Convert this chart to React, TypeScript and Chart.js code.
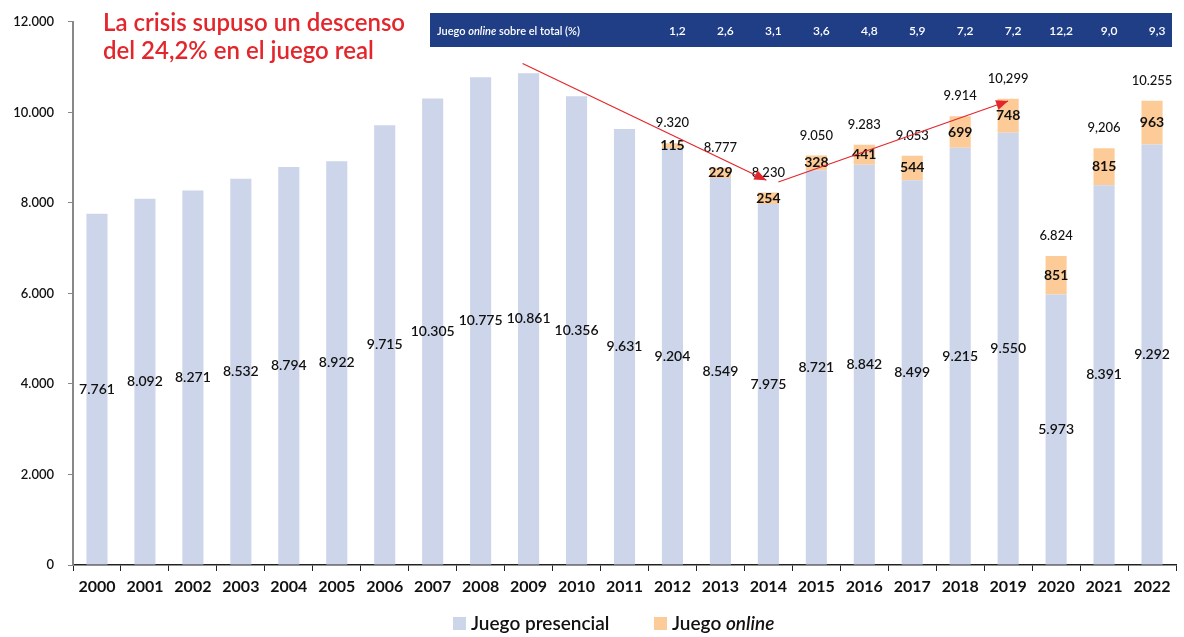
import React, { useEffect, useRef } from "react";
import { Chart, registerables } from "chart.js";
Chart.register(...registerables);

const years = ["2000","2001","2002","2003","2004","2005","2006","2007","2008","2009","2010","2011","2012","2013","2014","2015","2016","2017","2018","2019","2020","2021","2022"];
const presencial = [7761,8092,8271,8532,8794,8922,9715,10305,10775,10861,10356,9631,9204,8549,7975,8721,8842,8499,9215,9550,5973,8391,9292];
const online = [null,null,null,null,null,null,null,null,null,null,null,null,115,229,254,328,441,544,699,748,851,815,963];
const totalLabels = ["","","","","","","","","","","","","9.320","8.777","8.230","9.050","9.283","9.053","9.914","10,299","6.824","9,206","10.255"];
const shareYears = ["2012","2013","2014","2015","2016","2017","2018","2019","2020","2021","2022"];
const shareValues = ["1,2","2,6","3,1","3,6","4,8","5,9","7,2","7,2","12,2","9,0","9,3"];
const yMax = 12000;
const yStep = 2000;
const titleLines = ["La crisis supuso un descenso", "del 24,2% en el juego real"];
// arrow annotation anchors: [year, value]
const arrowDown = [["2009", 11080], ["2014", 8500]];
const arrowUp = [["2014", 8460], ["2019", 10250]];

const C_PRES = "#cdd5ea";
const C_ONL = "#fccb98";
const C_RED = "#e3262b";
const C_BANNER = "#1f3e86";
const FONT = "Lato, 'Open Sans', sans-serif";

const fmt = (n: number) => String(n).replace(/\B(?=(\d{3})+(?!\d))/g, ".");

const drawArrow = (ctx: CanvasRenderingContext2D, x1: number, y1: number, x2: number, y2: number) => {
  ctx.beginPath();
  ctx.moveTo(x1, y1);
  ctx.lineTo(x2, y2);
  ctx.stroke();
  const a = Math.atan2(y2 - y1, x2 - x1);
  const L = 12, W = 5;
  ctx.beginPath();
  ctx.moveTo(x2, y2);
  ctx.lineTo(x2 - L * Math.cos(a) + W * Math.sin(a), y2 - L * Math.sin(a) - W * Math.cos(a));
  ctx.lineTo(x2 - L * Math.cos(a) - W * Math.sin(a), y2 - L * Math.sin(a) + W * Math.cos(a));
  ctx.closePath();
  ctx.fill();
};

const overlayPlugin = {
  id: "overlay",
  afterDatasetsDraw(chart: any) {
    const ctx: CanvasRenderingContext2D = chart.ctx;
    const xs = chart.scales.x, ys = chart.scales.y;
    const m0 = chart.getDatasetMeta(0), m1 = chart.getDatasetMeta(1);
    ctx.save();
    ctx.textAlign = "center";
    ctx.textBaseline = "middle";
    ctx.fillStyle = "#111";
    m0.data.forEach((el: any, i: number) => {
      const p = el.getProps(["x", "y", "base"], true);
      ctx.font = `600 14px ${FONT}`;
      ctx.fillText(fmt(presencial[i]), p.x, (p.y + p.base) / 2);
    });
    m1.data.forEach((el: any, i: number) => {
      const v = online[i];
      if (v == null) return;
      const p = el.getProps(["x", "y", "base"], true);
      ctx.font = `bold 14px ${FONT}`;
      ctx.fillText(String(v), p.x, (p.y + p.base) / 2);
      ctx.font = `500 13px ${FONT}`;
      ctx.fillText(totalLabels[i], p.x, p.y - 20);
    });
    // arrows
    ctx.strokeStyle = C_RED;
    ctx.fillStyle = C_RED;
    ctx.lineWidth = 1.2;
    const pt = (a: any) => [xs.getPixelForValue(years.indexOf(a[0])), ys.getPixelForValue(a[1])];
    const [d1, d2] = arrowDown.map(pt);
    drawArrow(ctx, d1[0] - 6, d1[1], d2[0] - 2, d2[1]);
    const [u1, u2] = arrowUp.map(pt);
    drawArrow(ctx, u1[0] + 10, u1[1], u2[0], u2[1]);
    ctx.restore();
  },
  afterDraw(chart: any) {
    const ctx: CanvasRenderingContext2D = chart.ctx;
    const xs = chart.scales.x;
    ctx.save();
    // title
    ctx.fillStyle = C_RED;
    ctx.font = `600 24px ${FONT}`;
    ctx.textAlign = "left";
    ctx.textBaseline = "alphabetic";
    ctx.fillText(titleLines[0], 103, 31);
    ctx.fillText(titleLines[1], 103, 59);
    // banner
    ctx.fillStyle = C_BANNER;
    ctx.fillRect(430, 13, 742, 34);
    ctx.fillStyle = "#fff";
    ctx.textBaseline = "middle";
    let x = 437;
    const parts: [string, string][] = [["Juego ", `600 11px ${FONT}`], ["online", `italic 600 11px ${FONT}`], [" sobre el total (%)", `600 11px ${FONT}`]];
    parts.forEach(([t, f]) => { ctx.font = f; ctx.fillText(t, x, 31); x += ctx.measureText(t).width; });
    ctx.textAlign = "center";
    ctx.font = `600 12px ${FONT}`;
    shareYears.forEach((yr, i) => {
      ctx.fillText(shareValues[i], xs.getPixelForValue(years.indexOf(yr)) + 5, 31);
    });
    // legend
    ctx.textAlign = "left";
    ctx.textBaseline = "alphabetic";
    ctx.fillStyle = C_PRES;
    ctx.fillRect(453, 617, 13, 13);
    ctx.fillStyle = "#111";
    ctx.font = `600 19px ${FONT}`;
    ctx.fillText("Juego presencial", 471, 630);
    ctx.fillStyle = C_ONL;
    ctx.fillRect(654, 617, 13, 13);
    ctx.fillStyle = "#111";
    let lx = 672;
    ctx.font = `600 19px ${FONT}`;
    ctx.fillText("Juego ", lx, 630);
    lx += ctx.measureText("Juego ").width;
    ctx.font = `italic 600 19px ${FONT}`;
    ctx.fillText("online", lx, 630);
    ctx.restore();
  },
};

export default function App() {
  const ref = useRef<HTMLCanvasElement>(null);
  useEffect(() => {
    document.body.style.margin = "0";
    const chart = new Chart(ref.current!, {
      type: "bar",
      data: {
        labels: years,
        datasets: [
          { label: "Juego presencial", data: presencial, backgroundColor: C_PRES, barPercentage: 0.44, categoryPercentage: 1 },
          { label: "Juego online", data: online as any, backgroundColor: C_ONL, barPercentage: 0.44, categoryPercentage: 1 },
        ],
      },
      options: {
        responsive: false,
        animation: false,
        layout: { padding: { top: 20, right: 8, left: 0, bottom: 0 } },
        plugins: { legend: { display: false }, tooltip: { enabled: false } },
        scales: {
          x: {
            stacked: true,
            offset: true,
            grid: { display: true, drawOnChartArea: false, offset: true, tickLength: 6, tickColor: "#222" },
            border: { color: "#222", width: 1.5 },
            ticks: { color: "#111", font: { family: FONT, size: 16, weight: "bold" }, padding: 6, maxRotation: 0, autoSkip: false },
            afterFit: (s: any) => { s.height = 72; },
          },
          y: {
            stacked: true,
            min: 0,
            max: yMax,
            grid: { drawOnChartArea: false, tickLength: 5, tickColor: "#888" },
            border: { color: "#888", width: 2 },
            ticks: { stepSize: yStep, color: "#111", font: { family: FONT, size: 13, weight: "600" }, padding: 14, callback: (v: any) => fmt(Number(v)) },
            afterFit: (s: any) => { s.width = 73; },
          },
        },
      },
      plugins: [overlayPlugin],
    });
    return () => chart.destroy();
  }, []);
  return <canvas ref={ref} width={1184} height={637} style={{ display: "block" }} />;
}
